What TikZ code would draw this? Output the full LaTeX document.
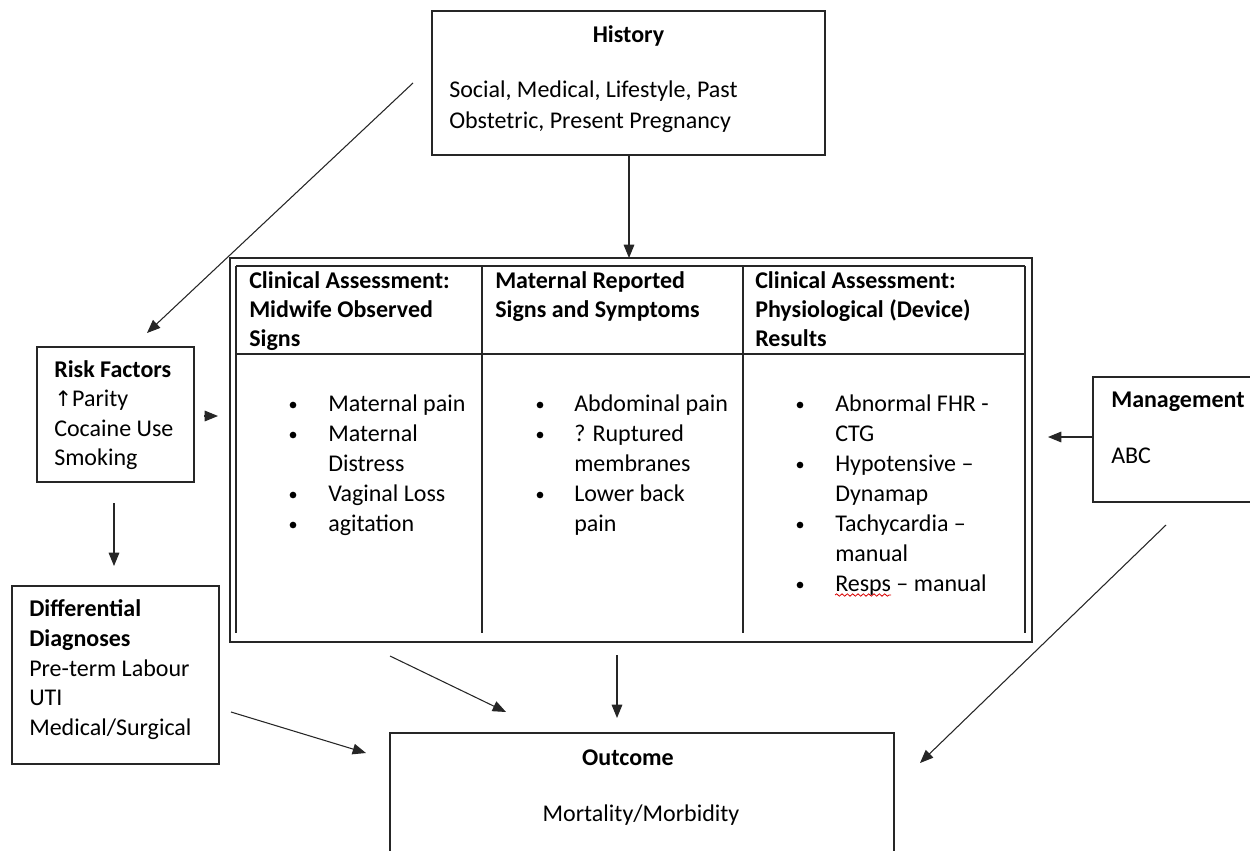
\documentclass[tikz,border=0pt]{standalone}
\usepackage{fontspec}
\setmainfont{Carlito}
\newfontfamily\arrowfont{DejaVu Sans}
\usetikzlibrary{arrows.meta,fit,decorations.pathmorphing}
\begin{document}
\begin{tikzpicture}[x=0.75pt,y=-0.75pt,
  box/.style={draw=black!85,line width=1.1pt,inner sep=0pt},
  rule/.style={draw=black!85,line width=1.1pt},
  conn/.style={draw=black!85,line width=0.8pt,-{Triangle[length=10pt,width=8pt]}},
  txt/.style={anchor=base west,inner sep=0pt,font=\fontsize{18}{22}\selectfont},
  hd/.style={txt,font=\fontsize{18}{22}\selectfont\bfseries},
  ctr/.style={txt,anchor=base},
  ctrhd/.style={hd,anchor=base},
  bulletdot/.style={circle,fill=black,inner sep=0pt,minimum size=5pt}]
\useasboundingbox (0,0) rectangle (1250,850);
\clip (0,0) rectangle (1250,850);

% ---------- History ----------
\node[box,fit={(432,11) (825,155)}] (history) {};
\node[ctrhd] (histT) at (628.5,42) {History};
\node[txt] (hist1) at (449,97) {Social, Medical, Lifestyle, Past};
\node[txt] (hist2) at (449,128) {Obstetric, Present Pregnancy};

% ---------- Assessment table ----------
\node[box,fit={(230,258) (1032,642)}] (table) {};
\draw[rule] (236,266) -- (1025,266);
\draw[rule] (236,354) -- (1025,354);
\foreach \cx in {236,482,743,1025} \draw[rule] (\cx,266) -- (\cx,633);

% header row
\node[hd] (h11) at (249,288) {Clinical Assessment:};
\node[hd] (h12) at (249,317) {Midwife Observed};
\node[hd] (h13) at (249,346) {Signs};
\node[hd] (h21) at (495,288) {Maternal Reported};
\node[hd] (h22) at (495,317) {Signs and Symptoms};
\node[hd] (h31) at (755,288) {Clinical Assessment:};
\node[hd] (h32) at (755,317) {Physiological (Device)};
\node[hd] (h33) at (755,346) {Results};

% column 1
\foreach \by in {411,441,501,531} \node[bulletdot] at (293,\by-6) {};
\node[txt] (c11) at (328,411) {Maternal pain};
\node[txt] (c12) at (328,441) {Maternal};
\node[txt] (c13) at (328,471) {Distress};
\node[txt] (c14) at (328,501) {Vaginal Loss};
\node[txt] (c15) at (328,531) {agitation};

% column 2
\foreach \by in {411,441,501} \node[bulletdot] at (540,\by-6) {};
\node[txt] (c21) at (574,411) {Abdominal pain};
\node[txt] (c22) at (574,441) {? Ruptured};
\node[txt] (c23) at (574,471) {membranes};
\node[txt] (c24) at (574,501) {Lower back};
\node[txt] (c25) at (574,531) {pain};

% column 3
\foreach \by in {411,471,531,591} \node[bulletdot] at (800,\by-6) {};
\node[txt] (c31) at (835,411) {Abnormal FHR -};
\node[txt] (c32) at (835,441) {CTG};
\node[txt] (c33) at (835,471) {Hypotensive –};
\node[txt] (c34) at (835,501) {Dynamap};
\node[txt] (c35) at (835,531) {Tachycardia –};
\node[txt] (c36) at (835,561) {manual};
\node[txt] (c37) at (835,591) {Resps – manual};
\draw[red!85!black,line width=0.6pt,decorate,
      decoration={snake,amplitude=0.9pt,segment length=4pt}]
  (c37.base west) ++(0,4) -- ++(56,0);

% ---------- Risk Factors ----------
\node[box,fit={(37,347) (194,482)}] (risk) {};
\node[hd] (risk1) at (54,377) {Risk Factors};
\node[txt] (risk2) at (54,406) {{\arrowfont\fontsize{16}{20}\selectfont ↑}Parity};
\node[txt] (risk3) at (54,436) {Cocaine Use};
\node[txt] (risk4) at (54,465) {Smoking};

% ---------- Differential Diagnoses ----------
\node[box,fit={(12,586) (219,764)}] (diff) {};
\node[hd] (diff1) at (29,616) {Differential};
\node[hd] (diff2) at (29,646) {Diagnoses};
\node[txt] (diff3) at (29,676) {Pre-term Labour};
\node[txt] (diff4) at (29,705) {UTI};
\node[txt] (diff5) at (29,735) {Medical/Surgical};

% ---------- Management ----------
\node[box,fit={(1093,377) (1262,502)}] (manage) {};
\node[hd] (man1) at (1111,407) {Management};
\node[txt] (man2) at (1111,463) {ABC};

% ---------- Outcome ----------
\node[box,fit={(390,733) (894,870)}] (outcome) {};
\node[ctrhd] (out1) at (628,765) {Outcome};
\node[ctr] (out2) at (641,821) {Mortality/Morbidity};

% ---------- connector end points ----------
\coordinate (histOut) at (629,155);
\coordinate (tabIn)   at (629,258);
\coordinate (diagA)   at (413,83);
\coordinate (diagB)   at (147,333);
\coordinate (riskA)   at (204,416);
\coordinate (riskB)   at (218,416);
\coordinate (riskC)   at (114,503);
\coordinate (riskD)   at (114,566);
\coordinate (manA)    at (1093,437);
\coordinate (manB)    at (1048,437);
\coordinate (manC)    at (1166,525);
\coordinate (manD)    at (920,763);
\coordinate (diffA)   at (231,712);
\coordinate (diffB)   at (366,753);
\coordinate (tabA)    at (390,656);
\coordinate (tabB)    at (506,712);
\coordinate (tabC)    at (617,655);
\coordinate (tabD)    at (617,718);

% ---------- connectors ----------
\draw[conn] (histOut) -- (tabIn);
\draw[conn] (diagA) -- (diagB);
\draw[conn] (riskA) -- (riskB);
\draw[conn] (riskC) -- (riskD);
\draw[conn] (manA) -- (manB);
\draw[conn] (manC) -- (manD);
\draw[conn] (diffA) -- (diffB);
\draw[conn] (tabA) -- (tabB);
\draw[conn] (tabC) -- (tabD);
\end{tikzpicture}
\end{document}
